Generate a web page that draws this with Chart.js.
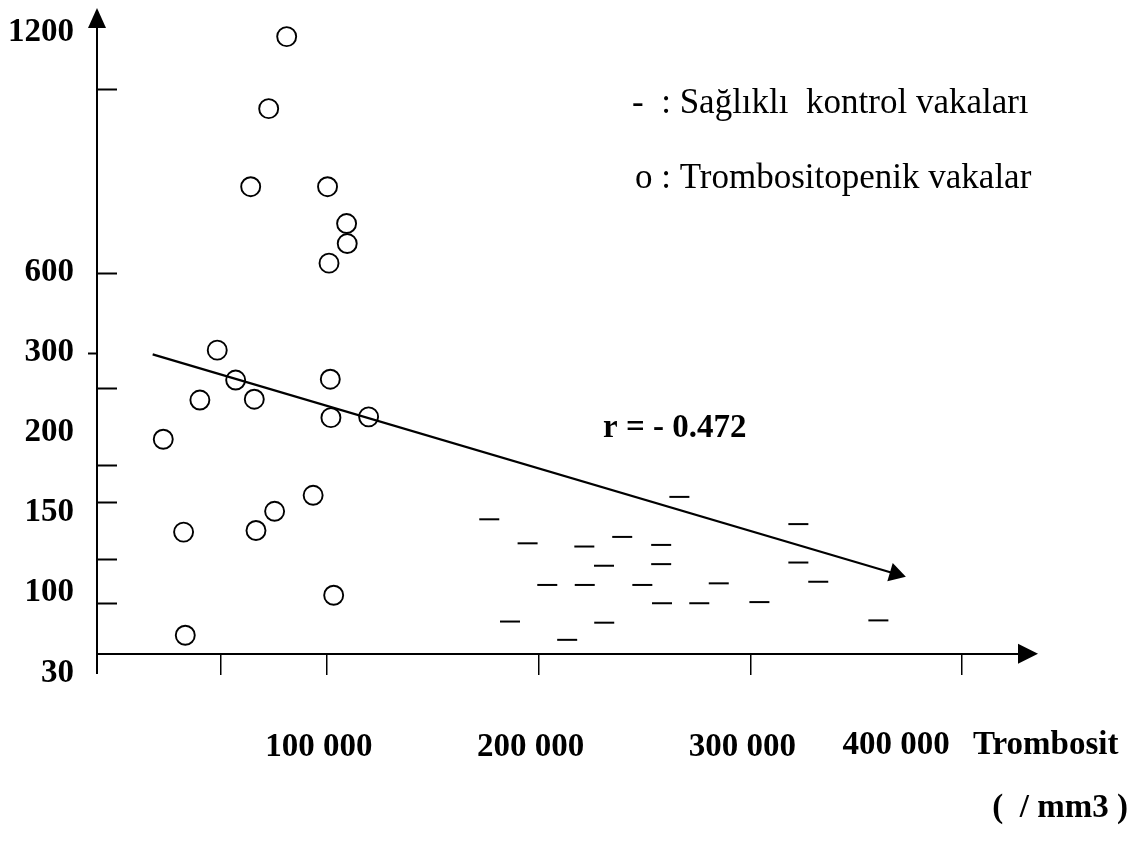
<!DOCTYPE html>
<html lang="tr">
<head>
<meta charset="utf-8">
<title>Trombosit</title>
<script src="https://cdn.jsdelivr.net/npm/chart.js@4.4.1/dist/chart.umd.min.js"></script>
<style>
    html, body { margin: 0; padding: 0; background: #fff; }
    #grafico { display: block; }
</style>
</head>
<body>
<canvas id="grafico" width="1138" height="848"></canvas>
<script>
// y ekseni: etiketler eşit aralıklı değil, her etiketin eksendeki basamağı
const yEtiketleri = [30, 100, 150, 200, 300, 600, 1200]
const yBasamaklari = [0, 1, 2, 3, 4, 5, 8]
// eksen üzerindeki etiketsiz çentikler
const yCentikleri = [1060, 600, 256, 180, 157, 121, 91]
const yDisCentikleri = [300]

// x ekseni
const xDegerleri = [50000, 100000, 200000, 300000, 400000]
const xEtiketleri = ['', '100 000', '200 000', '300 000', '400 000']

// o : Trombositopenik vakalar
const trombositopenikX = [81000, 72500, 64000, 100300, 109300, 109600, 101000, 48200, 56900, 40000, 65700,
    101600, 101900, 119700, 22700, 93500, 75300, 32300, 66500, 103200, 33100]
const trombositopenikY = [1190, 1010, 815, 815, 723, 673, 624, 310, 266, 241, 242,
    267, 219, 220, 196, 161, 151, 138, 139, 98, 63]

// - : Sağlıklı kontrol vakaları
const kontrolX = [266500, 176700, 322700, 194800, 221600, 239500, 257900, 230900, 257900, 322700, 204100,
    221800, 249000, 285100, 332100, 258300, 275900, 304300, 186500, 231000, 213500, 360500]
const kontrolY = [160, 146, 143, 131, 129, 135, 130, 117, 118, 119, 105,
    105, 105, 106, 107, 91, 91, 92, 75, 74, 59, 76]

// regresyon doğrusu (r = - 0.472)
const regresyonX = [17700, 368500]
const regresyonY = [298, 112]

// değeri eksendeki basamağa çevirir (parça parça doğrusal)
const basamak = (v) => {
    const son = yEtiketleri.length - 2
    for (let i = 0; i <= son; i++) {
        const a = yEtiketleri[i]
        const b = yEtiketleri[i + 1]
        if (v <= b || i === son) {
            return yBasamaklari[i] + (v - a) / (b - a) * (yBasamaklari[i + 1] - yBasamaklari[i])
        }
    }
}

const noktalar = (xs, ys) => xs.map((x, i) => ({ x, y: basamak(ys[i]) }))

const yaziTipi = '"Liberation Serif", "Times New Roman", serif'
Chart.defaults.font.family = yaziTipi
Chart.defaults.color = '#000'

// x ekseninin y basamağı
const xEkseniBasamak = 0.24

// ok uçları, çentikler ve yazılar
const eksenSusleri = {
    id: 'eksenSusleri',
    afterDraw(chart) {
        const { ctx, chartArea, scales } = chart
        const x0 = chartArea.left
        const eksenY = scales.y.getPixelForValue(xEkseniBasamak)
        ctx.save()
        ctx.fillStyle = '#000'
        ctx.strokeStyle = '#000'

        // y oku
        ctx.beginPath()
        ctx.moveTo(x0, chartArea.top - 19)
        ctx.lineTo(x0 - 9, chartArea.top + 1)
        ctx.lineTo(x0 + 9, chartArea.top + 1)
        ctx.closePath()
        ctx.fill()

        // x oku
        ctx.beginPath()
        ctx.moveTo(chartArea.right + 18, eksenY)
        ctx.lineTo(chartArea.right - 2, eksenY - 10)
        ctx.lineTo(chartArea.right - 2, eksenY + 10)
        ctx.closePath()
        ctx.fill()

        // y çentikleri
        ctx.lineWidth = 2
        yCentikleri.forEach(v => {
            const y = Math.round(scales.y.getPixelForValue(basamak(v))) + 0.5
            ctx.beginPath()
            ctx.moveTo(x0, y)
            ctx.lineTo(x0 + 20, y)
            ctx.stroke()
        })
        yDisCentikleri.forEach(v => {
            const y = Math.round(scales.y.getPixelForValue(basamak(v))) + 0.5
            ctx.beginPath()
            ctx.moveTo(x0 - 9, y)
            ctx.lineTo(x0, y)
            ctx.stroke()
        })

        // x ekseninin son etiketi ve başlık
        ctx.font = `bold 33px ${yaziTipi}`
        ctx.textBaseline = 'middle'
        ctx.textAlign = 'center'
        ctx.fillText(xEtiketleri[xEtiketleri.length - 1], 896, 745)
        ctx.textAlign = 'left'
        ctx.fillText('Trombosit', 973, 745)
        ctx.textAlign = 'right'
        ctx.fillText('(  / mm3 )', 1128, 808)

        // r değeri
        ctx.textAlign = 'left'
        ctx.textBaseline = 'alphabetic'
        ctx.fillText('r = - 0.472', 603, 437)

        // açıklamalar
        ctx.font = `35px ${yaziTipi}`
        ctx.fillText('-  : Sağlıklı  kontrol vakaları', 632, 113)
        ctx.fillText('o : Trombositopenik vakalar', 635, 188)
        ctx.restore()
    }
}

// okun yönü, doğrunun ekrandaki eğiminden
const okAcisi = (context) => {
    const { x, y } = context.chart.scales
    if (!x || !y) return 0
    const dx = x.getPixelForValue(regresyonX[1]) - x.getPixelForValue(regresyonX[0])
    const dy = y.getPixelForValue(basamak(regresyonY[1])) - y.getPixelForValue(basamak(regresyonY[0]))
    return 90 + Math.atan2(dy, dx) * 180 / Math.PI
}

new Chart(document.getElementById('grafico'), {
    type: 'scatter',
    data: {
        datasets: [{
            label: 'Trombositopenik vakalar',
            data: noktalar(trombositopenikX, trombositopenikY),
            pointStyle: 'circle',
            pointRadius: 9.5,
            borderColor: '#000',
            backgroundColor: 'rgba(0,0,0,0)',
            borderWidth: 1.9,
            clip: false
        }, {
            label: 'Sağlıklı kontrol vakaları',
            data: noktalar(kontrolX, kontrolY),
            pointStyle: 'line',
            pointRadius: 10,
            borderColor: '#000',
            borderWidth: 2,
            clip: false
        }, {
            label: 'r = - 0.472',
            data: noktalar(regresyonX, regresyonY),
            showLine: true,
            borderColor: '#000',
            borderWidth: 2.2,
            pointStyle: ['circle', 'triangle'],
            pointRadius: [0, 11],
            pointBorderWidth: 0,
            pointBackgroundColor: '#000',
            pointRotation: okAcisi,
            clip: false
        }]
    },
    options: {
        responsive: false,
        animation: false,
        events: [],
        layout: {
            padding: { left: 0, top: 27, right: 118, bottom: 175 }
        },
        plugins: {
            legend: { display: false },
            tooltip: { enabled: false }
        },
        scales: {
            x: {
                type: 'linear',
                min: -8600,
                max: 427400,
                position: { y: xEkseniBasamak },
                afterBuildTicks: (s) => { s.ticks = xDegerleri.map(v => ({ value: v })) },
                ticks: {
                    autoSkip: false,
                    maxRotation: 0,
                    padding: 54,
                    labelOffset: -8,
                    font: { size: 33, weight: 'bold' },
                    callback: (v, i) => i < xEtiketleri.length - 1 ? xEtiketleri[i] : ''
                },
                grid: {
                    drawOnChartArea: false,
                    drawTicks: true,
                    tickLength: 20,
                    color: '#000',
                    lineWidth: 1.5
                },
                border: { color: '#000', width: 2 }
            },
            y: {
                type: 'linear',
                min: 0,
                max: 8.07,
                afterBuildTicks: (s) => { s.ticks = yBasamaklari.map(v => ({ value: v })) },
                afterFit: (s) => { s.width = 97 },
                ticks: {
                    autoSkip: false,
                    padding: 0,
                    font: { size: 33, weight: 'bold' },
                    callback: (v) => yEtiketleri[yBasamaklari.indexOf(v)]
                },
                // görünmez çentik, etiketleri eksenden uzaklaştırmak için
                grid: {
                    drawOnChartArea: false,
                    drawTicks: true,
                    tickLength: 23,
                    color: 'rgba(0,0,0,0)'
                },
                border: { color: '#000', width: 2 }
            }
        }
    },
    plugins: [eksenSusleri]
})
</script>
</body>
</html>
